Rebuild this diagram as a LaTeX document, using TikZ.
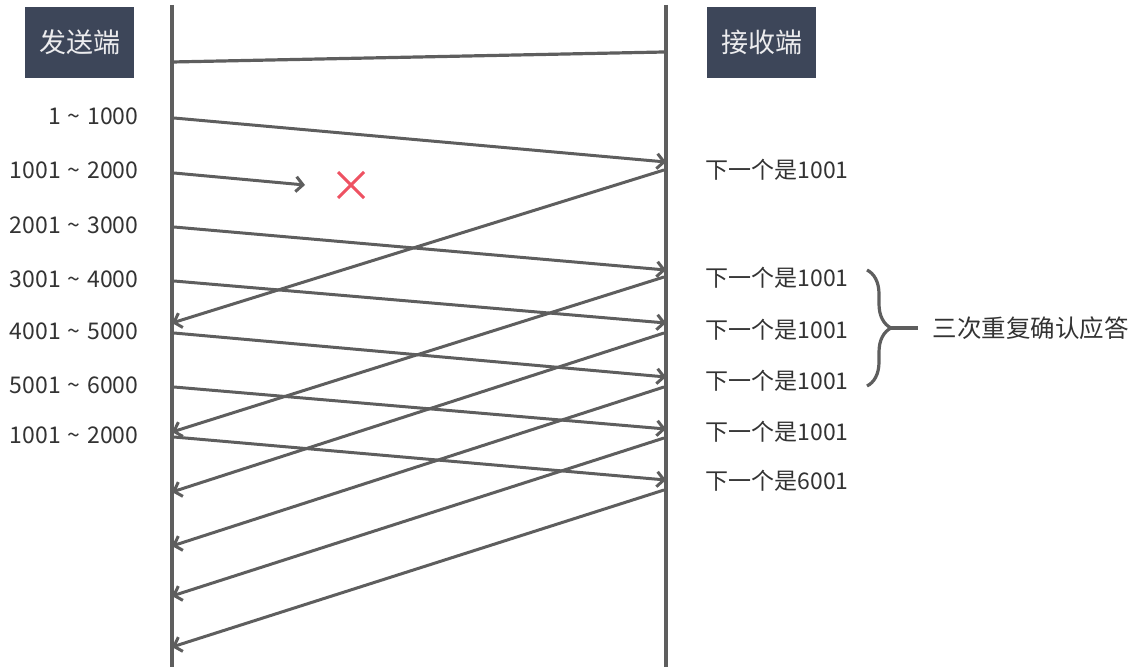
\documentclass[tikz,border=0pt]{standalone}
\usepackage{fontspec}
\setmainfont{Noto Sans CJK SC}
\usetikzlibrary{calc}
\usetikzlibrary{arrows.meta}
\usetikzlibrary{decorations.pathreplacing}
\usepackage{xcolor}
\definecolor{boxbg}{HTML}{3D4659}
\definecolor{linegray}{HTML}{5E5E5E}
\definecolor{textgray}{HTML}{333333}
\definecolor{crossred}{HTML}{EE5262}
\newcommand{\rng}[2]{#1\hspace{0.3em}\textasciitilde\hspace{0.3em}#2}
\tikzset{
    party/.style={fill=boxbg,text=white!90!boxbg,minimum width=109pt,minimum height=71pt,inner sep=0pt,font=\fontsize{27}{32}\selectfont},
    life/.style={draw=linegray,line width=3.2pt},
    msg/.style={draw=linegray,line width=3pt,-{Straight Barb[length=7pt,width=15pt]}}
}

\begin{document}
\begin{tikzpicture}[x=1pt,y=-1pt,every node/.style={text=textgray,font=\fontsize{23}{27}\selectfont}]
\useasboundingbox (0,0) rectangle (1131,671);
\node[party] (send) at (79.5,42.5) {发送端};
\node[party] (recv) at (761.5,42.5) {接收端};
\coordinate (stop) at (172,5);
\coordinate (sbot) at (172,667);
\coordinate (rtop) at (666,5);
\coordinate (rbot) at (666,667);
\draw[life] (stop) -- (sbot);
\draw[life] (rtop) -- (rbot);
\coordinate (hs) at (172,62);
\coordinate (hr) at (664,52);
\draw[life] (hs) -- (hr);
\foreach \n/\ys/\ye/\seg in {1/118/162/{\rng{1}{1000}}, 3/227/270/{\rng{2001}{3000}}, 4/281/323/{\rng{3001}{4000}}, 5/333/377/{\rng{4001}{5000}}, 6/387/429/{\rng{5001}{6000}}, 7/437/480/{\rng{1001}{2000}}}{
    \coordinate (d\n) at (174,\ys);
    \coordinate (e\n) at (666,\ye);
    \draw[msg] (d\n) -- (e\n);
    \node[anchor=east] (seg\n) at (142,\ys-2) {\seg};
}
\coordinate (d2) at (174,173);
\coordinate (lost) at (305,185);
\draw[msg] (d2) -- (lost);
\node[anchor=east] (seg2) at (142,170) {\rng{1001}{2000}};
\coordinate (x0) at (351,185);
\draw[crossred,line width=3pt] ($(x0)+(-13,-13)$) -- ($(x0)+(13,13)$) ($(x0)+(-13,13)$) -- ($(x0)+(13,-13)$);
\foreach \n/\ys/\ye in {1/170/323, 2/277/432, 3/333/492, 4/387/546, 5/438/596, 6/490/647}{
    \coordinate (a\n) at (664,\ys);
    \coordinate (b\n) at (172,\ye);
    \draw[msg] (a\n) -- (b\n);
}
\foreach \n/\y/\nxt in {1/170/1001, 2/278/1001, 3/330/1001, 4/381/1001, 5/432/1001, 6/481/6001}{
    \node[anchor=west] (ack\n) at (702,\y) {下一个是\nxt};
}
\draw[life,decorate,decoration={brace,amplitude=24pt,aspect=0.5}] (867,270) -- (867,386);
\coordinate (btip) at (891,328);
\node[anchor=west,font=\fontsize{24.5}{28}\selectfont] (dup) at (929,328) {三次重复确认应答};
\draw[life,shorten >=11pt] (btip) -- (dup.west);
\end{tikzpicture}
\end{document}
